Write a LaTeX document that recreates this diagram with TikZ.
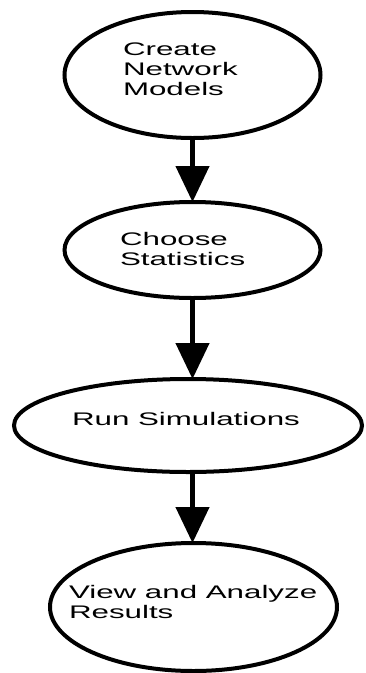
\documentclass[tikz,border=0pt]{standalone}
\usepackage{fontspec}
\newfontfamily\lblfont[FakeStretch=1.72]{Liberation Sans}
\usetikzlibrary{shapes.geometric,arrows.meta}
\begin{document}
\begin{tikzpicture}[x=1pt,y=-1pt,
  oval/.style={ellipse,draw=black,line width=4pt,inner sep=0pt,outer sep=0pt},
  lbl/.style={anchor=base west,inner sep=0pt,outer sep=0pt,font=\lblfont\fontsize{18.2}{20}\selectfont},
  flow/.style={line width=4.5pt,-{Triangle[length=36pt,width=33pt]}}]
\useasboundingbox[fill=white] (0,0) rectangle (365,673);
\node[oval,minimum width=256pt,minimum height=126pt] (e1) at (192.5,75) {};
\node[oval,minimum width=256pt,minimum height=96pt] (e2) at (192.5,250) {};
\node[oval,minimum width=348pt,minimum height=93pt] (e3) at (188,425.5) {};
\node[oval,minimum width=287pt,minimum height=128pt] (e4) at (193.5,607) {};
\node[lbl] (t1a) at (123,55.5) {Create};
\node[lbl] (t1b) at (123,75.5) {Network};
\node[lbl] (t1c) at (123,95.5) {Models};
\node[lbl] (t2a) at (120,245) {Choose};
\node[lbl] (t2b) at (120,265) {Statistics};
\node[lbl] (t3) at (72,425) {Run Simulations};
\node[lbl] (t4a) at (69,598) {View and Analyze};
\node[lbl] (t4b) at (69,618) {Results};
\draw[flow] (e1.south) -- (e2.north);
\draw[flow] (e2.south) -- (e2.south |- e3.north);
\draw[flow] (e2.south |- e3.south) -- (e2.south |- e4.north);
\end{tikzpicture}
\end{document}
